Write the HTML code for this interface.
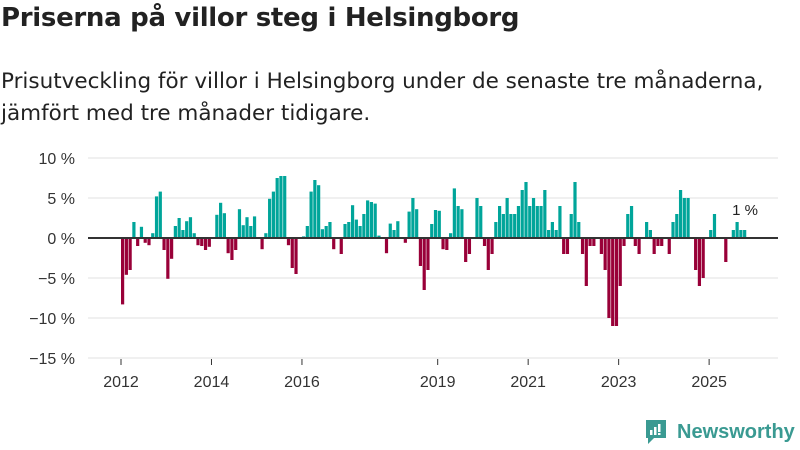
<!DOCTYPE html>
<html><head><meta charset="utf-8">
<style>
body{margin:0;width:800px;height:450px;background:#fff;font-family:"Liberation Sans","DejaVu Sans",sans-serif;overflow:hidden;position:relative;color:#222}
#title{position:absolute;left:1px;top:3px;font-size:26px;font-weight:bold;margin:0;font-family:"DejaVu Sans",sans-serif;letter-spacing:-0.3px}
#sub{position:absolute;left:1px;top:66px;font-size:21.5px;line-height:32px;color:#222;width:799px;white-space:nowrap;font-family:"DejaVu Sans",sans-serif;letter-spacing:0px}
#logo{position:absolute;left:644px;top:418px;display:flex;align-items:center}
#logo span{font-size:20px;color:#3a9a92;margin-left:9px;font-weight:bold}
</style></head><body>
<h1 id="title">Priserna på villor steg i Helsingborg</h1>
<div id="sub">Prisutveckling för villor i Helsingborg under de senaste tre månaderna,<br>jämfört med tre månader tidigare.</div>
<svg id="chart" width="800" height="450" style="position:absolute;left:0;top:0"></svg>
<div id="logo">
<svg width="24" height="28" viewBox="0 0 24 28"><path d="M2 2h20v18H10l-6 6v-6H2z" fill="#3a9a92"/><rect x="6" y="12" width="2.5" height="5" fill="#fff"/><rect x="10" y="9" width="2.5" height="8" fill="#fff"/><rect x="14" y="6" width="2.5" height="8" fill="#fff"/><rect x="14" y="15" width="2.5" height="2" fill="#fff"/></svg>
<span>Newsworthy</span></div>
<script>
const startYear = 2012;
const values = [
-8.3,-4.6,-4.0,2.0,-1.0,1.4,-0.6,-0.9,0.6,5.2,5.8,-1.5,
-5.1,-2.6,1.5,2.5,1.0,2.1,2.6,0.6,-0.9,-1.0,-1.5,-1.1,
null,2.9,4.4,3.1,-1.9,-2.75,-1.5,3.6,1.6,2.6,1.5,2.7,
null,-1.4,0.6,4.9,5.8,7.5,7.75,7.75,-0.9,-3.75,-4.5,null,
0.2,1.5,5.8,7.25,6.6,1.1,1.5,2.0,-1.4,null,-2.0,1.75,
2.0,4.1,2.3,1.5,3.0,4.7,4.5,4.3,0.3,null,-1.9,1.8,
1.0,2.1,null,-0.6,3.3,5.0,3.6,-3.5,-6.5,-4.0,1.75,3.5,
3.4,-1.4,-1.5,0.6,6.2,4.0,3.6,-3.0,-2.0,null,5.0,4.0,
-1.0,-4.0,-2.0,2.0,4.0,3.0,5.0,3.0,3.0,4.0,6.0,7.0,
4.0,5.0,4.0,4.0,6.0,1.0,2.0,1.0,4.0,-2.0,-2.0,3.0,
7.0,2.0,-2.0,-6.0,-1.0,-1.0,null,-2.0,-4.0,-10.0,-11.0,-11.0,
-6.0,-1.0,3.0,4.0,-1.0,-2.0,null,2.0,1.0,-2.0,-1.0,-1.0,
null,-2.0,2.0,3.0,6.0,5.0,5.0,null,-4.0,-6.0,-5.0,null,
1.0,3.0,null,null,-3.0,null,1.0,2.0,1.0,1.0
];
const yTicks = [10,5,0,-5,-10,-15];
const xTickYears = [2012,2014,2016,2019,2021,2023,2025];
const lastLabel = "1 %";

const svg = document.getElementById('chart');
const NS = 'http://www.w3.org/2000/svg';
const x0 = 121, step = 3.77, yZero = 238, pxPer = 8;
const xScale = i => x0 + i * step;
const yScale = v => yZero - v * pxPer;
function mk(tag, attrs){const e=document.createElementNS(NS,tag);for(const k in attrs)e.setAttribute(k,attrs[k]);svg.appendChild(e);return e;}

yTicks.forEach(t=>{
  if(t!==0){const g=mk('line',{x1:88,x2:778,y1:yScale(t),y2:yScale(t),stroke:'#e2e2e2','stroke-width':1});
  
  }
  const lab=mk('text',{x:75,y:yScale(t)+6,'text-anchor':'end','font-size':16,fill:'#333','font-family':'Liberation Sans, sans-serif'});
  lab.textContent=(t<0?'\u2212'+(-t):t)+' %';
  
  
});
xTickYears.forEach(y=>{
  const xi=xScale((y-startYear)*12);
  const tk=mk('line',{x1:xi,x2:xi,y1:359,y2:365,stroke:'#333','stroke-width':1});
  
  
  const lab=mk('text',{x:xi,y:387,'text-anchor':'middle','font-size':16,fill:'#333','font-family':'Liberation Sans, sans-serif'});
  lab.textContent=y;
  
  
});
values.forEach((v,i)=>{
  if(v===null)return;
  const y=v>=0?yScale(v):yZero, h=Math.abs(v)*pxPer;
  const r=mk('rect',{x:xScale(i),y:y,width:3.2,height:h,fill:v>=0?'#00a59a':'#990038'});
  
  
});
const zl=mk('line',{x1:88,x2:778,y1:yZero,y2:yZero,stroke:'#333','stroke-width':2});


const ll=mk('text',{x:xScale(values.length-1)+2,y:215,'text-anchor':'middle','font-size':15,fill:'#222','font-family':'Liberation Sans, sans-serif'});
ll.textContent=lastLabel;


</script>
</body></html>
